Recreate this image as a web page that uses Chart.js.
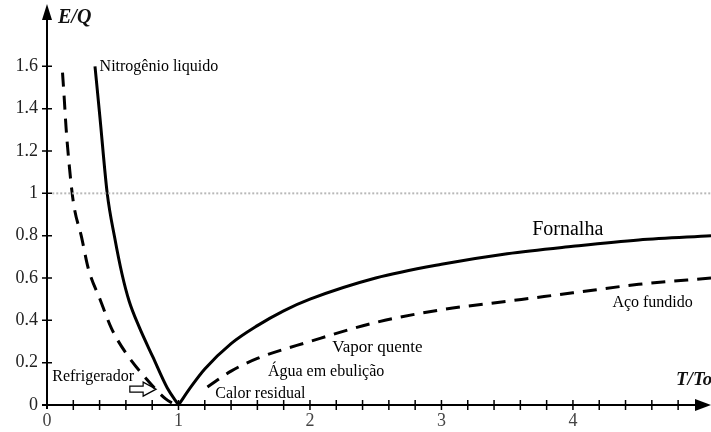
<!DOCTYPE html>
<html>
<head>
<meta charset="utf-8">
<script src="https://cdn.jsdelivr.net/npm/chart.js@4.4.1/dist/chart.umd.min.js"></script>
<style>
  html, body { margin: 0; padding: 0; background: #fff; }
  #wrap { width: 711px; height: 432px; }
</style>
</head>
<body>
<div id="wrap"><canvas id="myChart"></canvas></div>
<script>
// values (x = T/To, y = E/Q)
const solidLeftX = [0.365, 0.403, 0.458, 0.515, 0.57, 0.625, 0.70, 0.805, 0.915, 1.0];
const solidLeftY = [1.6, 1.357, 1.0, 0.79, 0.62, 0.49, 0.37, 0.227, 0.08, 0];
const solidRightX = [1.0, 1.1, 1.2, 1.4, 1.6, 1.8, 2.0, 2.5, 3.0, 3.5, 4.0, 4.5, 5.05];
const solidRightY = [0, 0.09, 0.17, 0.29, 0.375, 0.445, 0.5, 0.6, 0.665, 0.715, 0.75, 0.78, 0.8];
const dashLeftX = [0.118, 0.13, 0.145, 0.165, 0.2, 0.264, 0.314, 0.403, 0.492, 0.606, 0.758, 0.9, 0.98];
const dashLeftY = [1.57, 1.46, 1.31, 1.16, 0.96, 0.79, 0.645, 0.5, 0.36, 0.24, 0.122, 0.03, 0];
const dashRightX = [1.22, 1.4, 1.6, 2.0, 2.5, 3.0, 3.5, 4.0, 4.5, 5.05];
const dashRightY = [0.085, 0.16, 0.22, 0.3, 0.39, 0.45, 0.49, 0.53, 0.57, 0.6];
const refLineY = 1;

const yTicks = [0, 0.2, 0.4, 0.6, 0.8, 1, 1.2, 1.4, 1.6];
const xLabels = [0, 1, 2, 3, 4];

const noteTexts = ['Nitrogênio liquido', 'Fornalha', 'Aço fundido', 'Vapor quente', 'Água em ebulição', 'Calor residual', 'Refrigerador'];
const noteX = [0.40, 3.69, 4.30, 2.17, 1.68, 1.28, 0.04];
const noteY = [1.6, 0.83, 0.485, 0.273, 0.155, 0.052, 0.132];
const noteSize = [16, 20, 16, 17, 16, 16, 16];
const hollowArrowX = [0.63, 0.83];
const hollowArrowY = 0.075;

function pts(xs, ys) {
  return xs.map((x, i) => ({ x: x, y: ys[i] }));
}

const drawExtras = {
  id: 'drawExtras',
  afterDraw(chart) {
    const ctx = chart.ctx;
    const xs = chart.scales.x, ys = chart.scales.y;
    const x0 = xs.getPixelForValue(0), y0 = ys.getPixelForValue(0);
    const right = chart.width;
    ctx.save();
    ctx.strokeStyle = '#000';
    ctx.fillStyle = '#000';
    ctx.lineWidth = 2;
    // axes
    ctx.beginPath();
    ctx.moveTo(x0 - 5, y0); ctx.lineTo(right - 10, y0);
    ctx.moveTo(x0, y0 + 4); ctx.lineTo(x0, 15);
    ctx.stroke();
    // arrow heads
    ctx.beginPath();
    ctx.moveTo(right, y0); ctx.lineTo(right - 16, y0 - 6); ctx.lineTo(right - 16, y0 + 6); ctx.closePath();
    ctx.fill();
    ctx.beginPath();
    ctx.moveTo(x0, 4); ctx.lineTo(x0 - 5, 20); ctx.lineTo(x0 + 5, 20); ctx.closePath();
    ctx.fill();
    // tick marks crossing the axes
    ctx.lineWidth = 1.5;
    ctx.beginPath();
    xs.ticks.forEach(t => {
      if (t.value <= 0.01) return;
      const px = xs.getPixelForValue(t.value);
      ctx.moveTo(px, y0 - 5); ctx.lineTo(px, y0 + 5);
    });
    ys.ticks.forEach(t => {
      if (t.value <= 0.01) return;
      const py = ys.getPixelForValue(t.value);
      ctx.moveTo(x0 - 5, py); ctx.lineTo(x0 + 5, py);
    });
    ctx.stroke();
    // axis titles
    ctx.font = 'italic bold 20px "Liberation Serif"';
    ctx.textBaseline = 'middle';
    ctx.textAlign = 'left';
    ctx.fillStyle = '#111';
    ctx.fillText('E/Q', 58, 18);
    ctx.font = 'italic bold 19px "Liberation Serif"';
    ctx.fillText('T/To', 676, 380);
    // notes
    ctx.fillStyle = '#000';
    noteTexts.forEach((t, i) => {
      ctx.font = noteSize[i] + 'px "Liberation Serif"';
      ctx.fillText(t, xs.getPixelForValue(noteX[i]), ys.getPixelForValue(noteY[i]));
    });
    // hollow arrow next to "Refrigerador"
    const ax1 = xs.getPixelForValue(hollowArrowX[0]);
    const ax2 = xs.getPixelForValue(hollowArrowX[1]);
    const ay = ys.getPixelForValue(hollowArrowY);
    ctx.lineWidth = 1.2;
    ctx.beginPath();
    ctx.moveTo(ax1, ay - 3); ctx.lineTo(ax2 - 13, ay - 3); ctx.lineTo(ax2 - 13, ay - 7);
    ctx.lineTo(ax2, ay); ctx.lineTo(ax2 - 13, ay + 7); ctx.lineTo(ax2 - 13, ay + 3);
    ctx.lineTo(ax1, ay + 3); ctx.closePath();
    ctx.stroke();
    ctx.restore();
  }
};

const lineOpts = { borderColor: '#000', borderWidth: 3, cubicInterpolationMode: 'monotone' };

const ctx = document.getElementById('myChart').getContext('2d');
const myChart = new Chart(ctx, {
  type: 'scatter',
  data: {
    datasets: [
      { data: [{ x: 0.04, y: refLineY }, { x: 5.05, y: refLineY }], borderColor: '#b8b8b8', borderWidth: 2, borderDash: [2, 2] },
      Object.assign({ data: pts(solidLeftX, solidLeftY) }, lineOpts),
      Object.assign({ data: pts(solidRightX, solidRightY) }, lineOpts),
      Object.assign({ data: pts(dashLeftX, dashLeftY), borderDash: [14, 9] }, lineOpts),
      Object.assign({ data: pts(dashRightX, dashRightY), borderDash: [14, 9] }, lineOpts)
    ]
  },
  options: {
    animation: false,
    maintainAspectRatio: false,
    responsive: true,
    showLine: true,
    elements: { point: { radius: 0, hoverRadius: 0 } },
    layout: { padding: { top: 2, right: 0, left: 0, bottom: 0 } },
    plugins: { legend: { display: false }, tooltip: { enabled: false } },
    scales: {
      x: {
        type: 'linear',
        min: 0,
        max: 5.05,
        afterFit: s => { s.height = 27; },
        afterBuildTicks: s => {
          const out = [];
          for (let i = 0; i <= 24; i++) out.push({ value: Math.round(i * 2) / 10 });
          s.ticks = out;
        },
        grid: { display: false, drawTicks: false, tickLength: 0 },
        border: { display: false },
        ticks: {
          color: '#444',
          padding: 5,
          autoSkip: false,
          maxRotation: 0,
          font: { family: 'Liberation Serif', size: 18 },
          callback: v => xLabels.includes(Math.round(v * 10) / 10) ? String(Math.round(v)) : ''
        }
      },
      y: {
        min: 0,
        max: 1.82,
        afterFit: s => { s.width = 47; },
        afterBuildTicks: s => { s.ticks = yTicks.map(v => ({ value: v })); },
        grid: { display: false, drawTicks: false, tickLength: 0 },
        border: { display: false },
        ticks: {
          color: '#222',
          padding: 9,
          font: { family: 'Liberation Serif', size: 18 },
          callback: v => String(Math.round(v * 10) / 10)
        }
      }
    }
  },
  plugins: [drawExtras]
});
</script>
</body>
</html>
